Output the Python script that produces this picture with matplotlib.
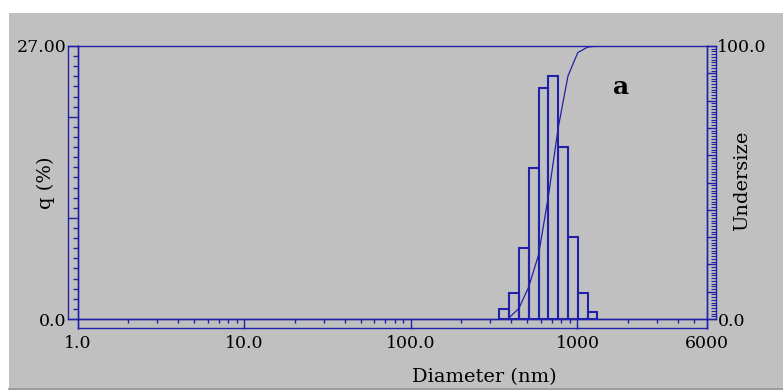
import numpy as np
import matplotlib
matplotlib.use("Agg")
import matplotlib.pyplot as plt
from matplotlib.patches import Rectangle
from matplotlib.lines import Line2D
from matplotlib.ticker import FixedLocator, LogLocator, NullFormatter

# ---- data ----
bin_edges = [339, 389, 445, 510, 584, 669, 766, 877, 1005, 1151, 1318]   # nm
q_percent = [1.0, 2.6, 7.0, 14.9, 22.8, 24.0, 17.0, 8.1, 2.6, 0.7]      # q (%)
undersize_d = [389, 445, 510, 584, 669, 766, 877, 1005, 1151, 1318]      # nm
undersize = [0.5, 3.9, 11.8, 23.5, 45.0, 70.0, 89.0, 97.6, 99.6, 100.0]  # %
x_ticks = [1, 10, 100, 1000, 6000]
x_ticklabels = ["1.0", "10.0", "100.0", "1000", "6000"]

BLUE = "#2020aa"
GRAY = "#c0c0c0"
W, H = 783, 390
FONT = "DejaVu Serif"
plt.rcParams["font.family"] = [FONT]

def fx(px):
    return px / W

def fy(py):
    return 1 - py / H

fig = plt.figure(figsize=(W / 100, H / 100), dpi=100, facecolor="white")
# grey panel background
fig.patches.append(Rectangle((fx(9), fy(388)), 1 - fx(9), fy(13) - fy(388),
                             transform=fig.transFigure, facecolor=GRAY,
                             edgecolor="none", zorder=-10))
fig.lines.append(Line2D([fx(9), 1], [fy(388.5), fy(388.5)], transform=fig.transFigure,
                        color="#8a8a8a", lw=1.2))

L, R, T, B, B2 = 78, 707, 46, 319, 328

# main plot area
ax = fig.add_axes([fx(L), fy(B), fx(R) - fx(L), fy(T) - fy(B)])
ax.set_facecolor("none")
ax.set_xscale("log")
ax.set_xlim(1, 6000)
ax.set_ylim(0, 27)
ax.set_xticks([]); ax.set_yticks([])
ax.xaxis.set_minor_locator(FixedLocator([]))
for s in ax.spines.values():
    s.set_color(BLUE); s.set_linewidth(1.0)
widths = np.diff(bin_edges)
ax.bar(bin_edges[:-1], q_percent, width=widths, align="edge",
       facecolor="none", edgecolor=BLUE, linewidth=1.5)

axc = ax.twinx()
axc.set_ylim(0, 100)
axc.set_yticks([])
axc.set_facecolor("none")
for s in axc.spines.values():
    s.set_visible(False)
axc.plot(undersize_d, undersize, color=BLUE, lw=0.9)

# left strip (q axis)
axL = fig.add_axes([fx(68), fy(B), fx(L) - fx(68), fy(T) - fy(B)])
axL.set_facecolor("none")
axL.set_xticks([])
axL.set_ylim(0, 27)
axL.set_yticks([0, 10, 20, 27])
axL.set_yticklabels(["0.0", "", "", "27.00"])
axL.yaxis.set_minor_locator(FixedLocator(list(range(1, 27))))
axL.tick_params(axis="y", which="both", direction="in", left=False, right=True,
                labelleft=True, labelright=False, colors=BLUE, labelcolor="black",
                labelsize=12.5, pad=1)
axL.tick_params(axis="y", which="major", length=7.2, width=1.0)
axL.tick_params(axis="y", which="minor", length=3.6, width=1.0)
for s in axL.spines.values():
    s.set_color(BLUE); s.set_linewidth(1.0)

# right strip (undersize axis)
axR = fig.add_axes([fx(R), fy(B), fx(716) - fx(R), fy(T) - fy(B)])
axR.set_facecolor("none")
axR.set_xticks([])
axR.set_ylim(0, 100)
axR.set_yticks(list(range(0, 101, 10)))
axR.set_yticklabels(["0.0"] + [""] * 9 + ["100.0"])
axR.yaxis.set_minor_locator(FixedLocator(list(range(0, 101, 1))))
axR.tick_params(axis="y", which="both", direction="in", left=False, right=True,
                labelleft=False, labelright=True, colors=BLUE, labelcolor="black",
                labelsize=12.5, pad=1)
axR.tick_params(axis="y", which="major", length=6.5, width=1.0)
axR.tick_params(axis="y", which="minor", length=3.6, width=0.8)
for s in axR.spines.values():
    s.set_color(BLUE); s.set_linewidth(1.0)

# bottom strip (diameter axis)
axB = fig.add_axes([fx(L), fy(B2), fx(R) - fx(L), fy(B) - fy(B2)])
axB.set_facecolor("none")
axB.set_yticks([])
axB.set_xscale("log")
axB.set_xlim(1, 6000)
axB.set_xticks(x_ticks)
axB.set_xticklabels(x_ticklabels)
axB.xaxis.set_minor_locator(LogLocator(base=10, subs=np.arange(2, 10), numticks=20))
axB.xaxis.set_minor_formatter(NullFormatter())
axB.tick_params(axis="x", which="both", direction="in", top=True, bottom=False,
                labeltop=False, labelbottom=True, colors=BLUE, labelcolor="black",
                labelsize=12.5, pad=5)
axB.tick_params(axis="x", which="major", length=7, width=1.0)
axB.tick_params(axis="x", which="minor", length=3.2, width=1.0)
for s in axB.spines.values():
    s.set_color(BLUE); s.set_linewidth(1.0)

# texts
fig.text(fx(484), fy(377), "Diameter (nm)", ha="center", va="center", fontsize=14)
fig.text(fx(46), fy(183), "q (%)", ha="center", va="center", rotation=90, fontsize=14)
fig.text(fx(742), fy(181), "Undersize", ha="center", va="center", rotation=90, fontsize=14)
fig.text(fx(621), fy(87), "a", ha="center", va="center", fontsize=18, fontweight="bold")

fig.savefig("out.png", dpi=100, facecolor=fig.get_facecolor())
